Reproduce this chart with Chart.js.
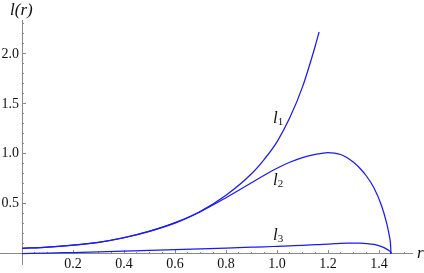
<!DOCTYPE html>
<html><head><meta charset="utf-8">
<script src="https://cdn.jsdelivr.net/npm/chart.js@4/dist/chart.umd.min.js"></script>
<style>html,body{margin:0;padding:0;background:#fff}canvas{display:block}</style>
</head><body>
<canvas id="c" width="424" height="273"></canvas>
<script>
// ---- data ----
const r  = [0,0.1,0.2,0.3,0.4,0.5,0.6,0.7,0.8,0.9,0.95,1.0,1.05,1.1,1.15,1.165,1.2,1.225,1.25,1.275,1.3,1.325,1.35,1.38,1.41,1.43,1.44,1.445,1.447];
const l1 = [0.053,0.066,0.085,0.113,0.160,0.225,0.31,0.425,0.585,0.80,0.945,1.12,1.36,1.67,2.08,2.22,null,null,null,null,null,null,null,null,null,null,null,null,null];
const l2 = [0.053,0.066,0.085,0.113,0.159,0.223,0.305,0.42,0.56,0.71,0.785,0.855,0.915,0.962,0.994,1.0,1.012,1.007,0.993,0.96,0.915,0.855,0.78,0.66,0.48,0.305,0.185,0.10,0];
const l3 = [0,0.005,0.011,0.017,0.024,0.032,0.040,0.048,0.056,0.064,0.068,0.073,0.078,0.083,0.089,0.091,0.096,0.099,0.102,0.104,0.105,0.104,0.101,0.092,0.07,0.045,0.028,0.017,0];

const xMajor = [0.2,0.4,0.6,0.8,1.0,1.2,1.4];
const xTickLabels = ['0.2','0.4','0.6','0.8','1.0','1.2','1.4'];
const xMinor = [0.05,0.1,0.15,0.25,0.3,0.35,0.45,0.5,0.55,0.65,0.7,0.75,0.85,0.9,0.95,1.05,1.1,1.15,1.25,1.3,1.35,1.45,1.5];
const yMajor = [0.5,1.0,1.5,2.0];
const yTickLabels = ['0.5','1.0','1.5','2.0'];
const yMinor = [0.1,0.2,0.3,0.4,0.6,0.7,0.8,0.9,1.1,1.2,1.3,1.4,1.6,1.7,1.8,1.9,2.1,2.2,2.3];

const seriesNames = ['l','l','l'];
const seriesSubs = ['1','2','3'];
const yAxisLabel = 'l(r)';
const xAxisLabel = 'r';

// ---- view ----
const XMIN = -0.0863, XMAX = 1.5294, YMIN = -0.11, YMAX = 2.34;
const AXIS = '#8a8a8a';
const LINE = 'rgb(25,25,255)';
const TICKFONT = {family: '"Liberation Serif", serif', size: 14};

const setTicks = vals => scale => { scale.ticks = vals.map(v => ({value: v})); };

const pts = ys => r.map((x, i) => ({x: x, y: ys[i]}));
const ds = (ys) => ({
  data: pts(ys), xAxisID: 'x', yAxisID: 'y',
  borderColor: LINE, borderWidth: 1.25, pointRadius: 0,
  cubicInterpolationMode: 'monotone', fill: false, spanGaps: false
});

const labelPlugin = {
  id: 'labels',
  afterDraw(chart) {
    const ctx = chart.ctx, xs = chart.scales.x, ys = chart.scales.y, a = chart.chartArea;
    const anchors = [[0.984, 1.313], [0.984, 0.69], [0.984, 0.14]];
    ctx.save();
    ctx.fillStyle = '#111';
    ctx.textAlign = 'left';
    ctx.textBaseline = 'alphabetic';
    ctx.font = 'italic 17px "Liberation Serif"';
    ctx.fillText(yAxisLabel, xs.getPixelForValue(0) - 12, a.top - 5);
    ctx.fillText(xAxisLabel, a.right + 5, ys.getPixelForValue(0) + 4);
    anchors.forEach((p, i) => {
      const px = xs.getPixelForValue(p[0]), py = ys.getPixelForValue(p[1]);
      ctx.font = 'italic 17px "Liberation Serif"';
      ctx.fillText(seriesNames[i], px, py);
      const w = ctx.measureText(seriesNames[i]).width;
      ctx.font = '11px "Liberation Serif"';
      ctx.fillText(seriesSubs[i], px + w, py + 2);
    });
    ctx.restore();
  }
};

new Chart(document.getElementById('c'), {
  type: 'line',
  data: { datasets: [ds(l1), ds(l2), ds(l3)] },
  options: {
    responsive: false, animation: false, devicePixelRatio: 1, events: [],
    layout: { padding: { left: 0, right: 12, top: 20, bottom: 8 } },
    plugins: { legend: { display: false }, tooltip: { enabled: false } },
    scales: {
      x: {
        type: 'linear', min: XMIN, max: XMAX, position: { y: 0 },
        afterBuildTicks: setTicks(xMajor),
        ticks: { autoSkip: false, maxRotation: 0, font: TICKFONT, color: '#111', padding: 6,
                 callback: (v, i) => xTickLabels[i] },
        grid: { drawOnChartArea: false, tickLength: -4, tickColor: AXIS, tickWidth: 1 },
        border: { color: AXIS, width: 1 }
      },
      xm: {
        type: 'linear', min: XMIN, max: XMAX, position: { y: 0 },
        afterBuildTicks: setTicks(xMinor),
        ticks: { display: false, autoSkip: false },
        grid: { drawOnChartArea: false, tickLength: -2, tickColor: AXIS, tickWidth: 1 },
        border: { display: false }
      },
      y: {
        type: 'linear', min: YMIN, max: YMAX, position: { x: 0 },
        afterBuildTicks: setTicks(yMajor),
        ticks: { display: false, autoSkip: false },
        grid: { drawOnChartArea: false, tickLength: -4, tickColor: AXIS, tickWidth: 1 },
        border: { color: AXIS, width: 1 }
      },
      ym: {
        type: 'linear', min: YMIN, max: YMAX, position: { x: 0 },
        afterBuildTicks: setTicks(yMinor),
        ticks: { display: false, autoSkip: false },
        grid: { drawOnChartArea: false, tickLength: -2, tickColor: AXIS, tickWidth: 1 },
        border: { display: false }
      },
      yl: {
        type: 'linear', min: YMIN, max: YMAX, position: { x: -0.012 },
        afterBuildTicks: setTicks(yMajor),
        ticks: { autoSkip: false, font: TICKFONT, color: '#111', padding: 0,
                 callback: (v, i) => yTickLabels[i] },
        grid: { display: false },
        border: { display: false }
      }
    }
  },
  plugins: [labelPlugin]
});
</script>
</body></html>
